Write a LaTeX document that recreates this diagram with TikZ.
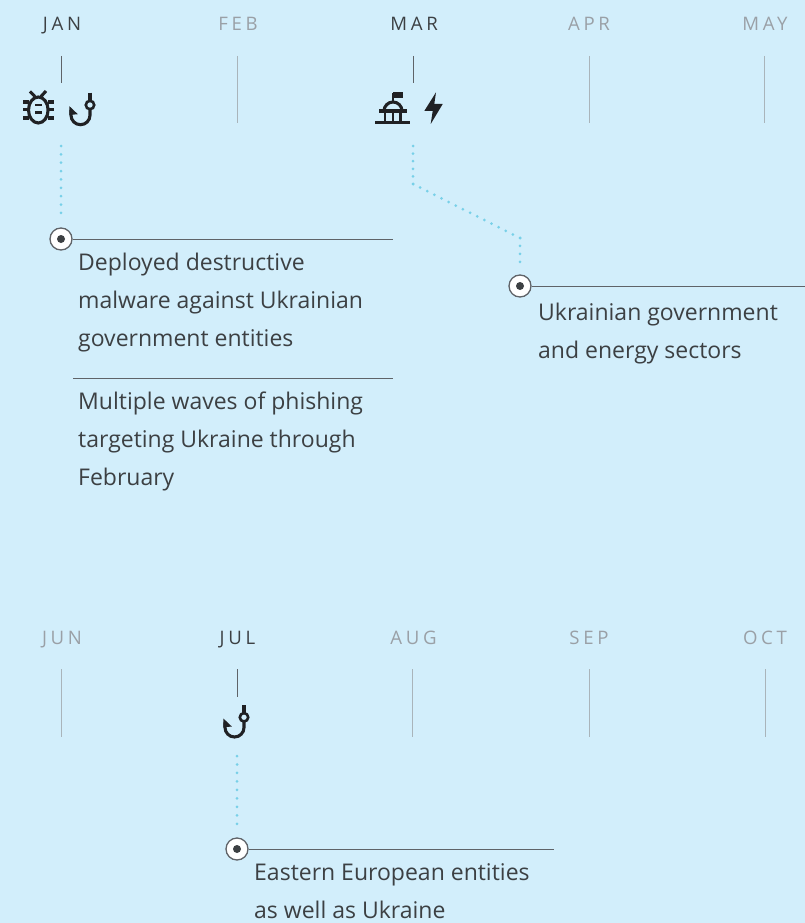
\documentclass[tikz,border=0pt]{standalone}
\usepackage{fontspec}
\setmainfont{Open Sans}
\newfontfamily\monthfont[LetterSpace=20]{Open Sans}
\definecolor{bgc}{HTML}{D2EEFB}
\definecolor{txt}{HTML}{3C4043}
\definecolor{mdark}{HTML}{3C4043}
\definecolor{mlight}{HTML}{9AA0A6}
\definecolor{dotc}{HTML}{78D0E8}
\definecolor{rulec}{HTML}{5F6368}
\definecolor{tickc}{HTML}{A9B4BA}
\definecolor{icon}{HTML}{202124}
\tikzset{
 monthon/.style={font=\monthfont\fontsize{18.6}{20}\selectfont,text=mdark,inner sep=0pt,anchor=base},
 monthoff/.style={monthon,text=mlight},
 tickon/.style={draw=rulec,line width=1pt},
 tickoff/.style={draw=tickc,line width=1pt},
 dotline/.style={draw=dotc,line width=3pt,line cap=round,dash pattern=on 0pt off #1},
 marker/.style={circle,draw=rulec,fill=white,line width=1.3pt,minimum size=22pt,inner sep=0pt},
 core/.style={circle,fill=txt,minimum size=8pt,inner sep=0pt},
 rule/.style={draw=rulec,line width=1pt},
 body/.style={font=\fontsize{23}{38}\selectfont,text=txt,align=left,anchor=north west,inner sep=0pt},
 ic/.style={draw=icon,line width=3.1pt},
}
\newcommand{\hookicon}[2]{%
 \begin{scope}[shift={(#1,#2)}]
  \draw[ic] (90,92.7) -- (90,101);
  \draw[ic,line width=2.6pt] (90,105) circle (4.2);
  \draw[ic] (90,109) -- (90,115.2) arc[start angle=0,end angle=180,radius=9.5] -- (71,110);
  \fill[icon] (69.4,115) -- (69.4,106.2) -- (77.8,114.2) -- cycle;
 \end{scope}}
\begin{document}
\begin{tikzpicture}[x=1pt,y=-1pt]
\useasboundingbox[fill=bgc] (0,0) rectangle (805,923);
% months row 1
\node[monthon] (jan) at (62,30.5) {JAN};
\node[monthoff] (feb) at (238,30.5) {FEB};
\node[monthon] (mar) at (414,30.5) {MAR};
\node[monthoff] (apr) at (589,30.5) {APR};
\node[monthoff] (may) at (765,30.5) {MAY};
% months row 2
\node[monthoff] (jun) at (62,644.5) {JUN};
\node[monthon] (jul) at (237.5,644.5) {JUL};
\node[monthoff] (aug) at (413.5,644.5) {AUG};
\node[monthoff] (sep) at (589,644.5) {SEP};
\node[monthoff] (oct) at (765,644.5) {OCT};
% ticks
\draw[tickon] (61,56) -- (61,83);
\draw[tickoff] (237,56) -- (237,123);
\draw[tickon] (413,56) -- (413,83);
\draw[tickoff] (589,56) -- (589,123);
\draw[tickoff] (764,56) -- (764,123);
\draw[tickoff] (61,669) -- (61,737);
\draw[tickon] (237,669) -- (237,697);
\draw[tickoff] (412,669) -- (412,737);
\draw[tickoff] (589,669) -- (589,737);
\draw[tickoff] (765,669) -- (765,737);
% icons
\begin{scope}
 \draw[ic] (38.3,110) ellipse (9.8 and 13);
 \draw[ic] (23,102) -- (29,102) (23,109.5) -- (29,109.5) (23,118) -- (29,118);
 \draw[ic] (48,102) -- (54,102) (48,109.5) -- (54,109.5) (48,118) -- (54,118);
 \draw[ic] (30,91.5) -- (35,96.5) (46,91) -- (41,96.5);
 \draw[ic,line width=2.6pt] (35,105) -- (41.7,105) (35,112.3) -- (41.7,112.3);
\end{scope}
\hookicon{0}{0}
\begin{scope}
 \draw[ic,line width=3.4pt] (375,122.3) -- (410,122.3);
 \draw[ic] (379,111) -- (406.7,111);
 \draw[ic] (384,111) arc[start angle=180,end angle=360,radius=9];
 \draw[ic,line width=2.8pt] (385,111) -- (385,122) (393,111) -- (393,122) (400.7,111) -- (400.7,122);
 \draw[ic,line width=2.4pt] (392.9,93) -- (392.9,102);
 \fill[icon] (392.7,92.3) rectangle (403.3,98.3);
 \fill[icon] (436,92.3) -- (424.3,111) -- (432.7,111) -- (430.7,124) -- (442.7,104) -- (434.3,104) -- cycle;
\end{scope}
\hookicon{154}{612.3}
% markers
\node[marker] (m1) at (61,239) {};
\node[core] at (m1) {};
\node[marker] (m2) at (520,286) {};
\node[core] at (m2) {};
\node[marker] (m3) at (237,849) {};
\node[core] at (m3) {};
\coordinate (e1) at (393,239);
\coordinate (e2) at (805,286);
\coordinate (e3) at (554,849);
\draw[rule] (m1) -- (e1);
\draw[rule] (m2) -- (e2);
\draw[rule] (m3) -- (e3);
\coordinate (s1) at (73,378);
\coordinate (s2) at (393,378);
\draw[rule] (s1) -- (s2);
% dotted connectors
\coordinate (a1) at (61,146);
\coordinate (a2) at (61,213);
\draw[dotline=8.37pt] (a1) -- (a2);
\coordinate (b1) at (413,146);
\coordinate (b2) at (413,184);
\coordinate (b3) at (520,238);
\coordinate (b4) at (520,262);
\draw[dotline=7.6pt] (b1) -- (b2);
\draw[dotline=7.99pt] (b2) -- (b3);
\draw[dotline=7.99pt] (b3) -- (b4);
\coordinate (c1) at (237,756);
\coordinate (c2) at (237,824);
\draw[dotline=8.49pt] (c1) -- (c2);
% text
\node[body] (t1) at (78,253) {Deployed destructive\\malware against Ukrainian\\government entities};
\node[body] (t2) at (78,392) {Multiple waves of phishing\\targeting Ukraine through\\February};
\node[body] (t3) at (538,303) {Ukrainian government\\and energy sectors};
\node[body] (t4) at (254,863.5) {Eastern European entities\\as well as Ukraine};
\end{tikzpicture}
\end{document}
